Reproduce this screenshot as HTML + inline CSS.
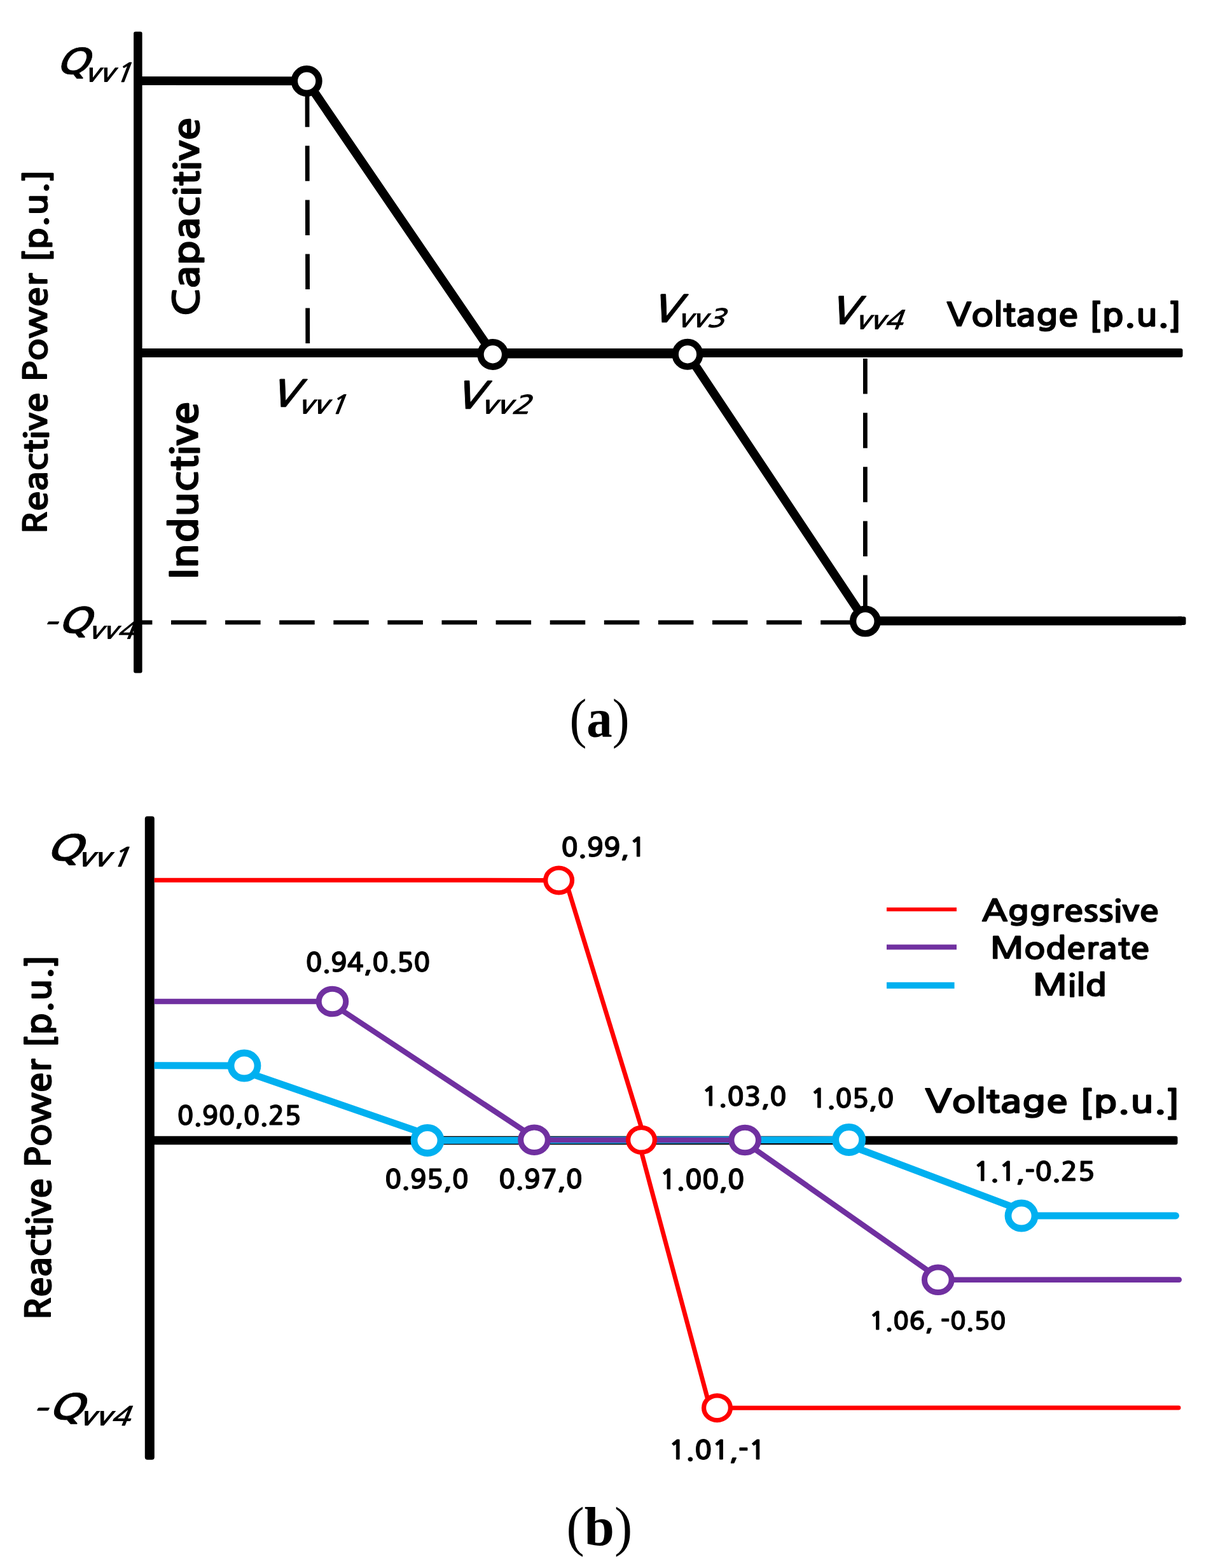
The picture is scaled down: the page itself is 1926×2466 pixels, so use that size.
<!DOCTYPE html>
<html><head><meta charset="utf-8"><title>Volt-VAR curves</title>
<style>html,body{margin:0;padding:0;background:#fff;overflow:hidden}svg{display:block}</style></head>
<body><svg width="1926" height="2466" viewBox="0 0 1926 2466">
<rect width="1926" height="2466" fill="#fff"/>
<text transform="translate(-174.93,-317.95) scale(0.6539,0.5430) translate(400,800) skewX(-18.4)" font-family="NanumGothic, 'Noto Sans CJK KR', sans-serif" font-weight="700" font-size="100" stroke="#000" stroke-width="1.2">Q</text>
<text transform="translate(-57.80,-199.86) scale(0.4738,0.4117) translate(400,800) skewX(-18.4)" font-family="NanumGothic, 'Noto Sans CJK KR', sans-serif" font-weight="700" font-size="100">vv1</text>
<text transform="translate(-183.75,681.29) scale(0.6194,0.3917) translate(400,800) skewX(-18.4)" font-family="NanumGothic, 'Noto Sans CJK KR', sans-serif" font-weight="700" font-size="100" stroke="#000" stroke-width="1.2">-</text>
<text transform="translate(-171.93,563.75) scale(0.6539,0.5387) translate(400,800) skewX(-18.4)" font-family="NanumGothic, 'Noto Sans CJK KR', sans-serif" font-weight="700" font-size="100" stroke="#000" stroke-width="1.2">Q</text>
<text transform="translate(-48.65,702.98) scale(0.4660,0.3779) translate(400,800) skewX(-18.4)" font-family="NanumGothic, 'Noto Sans CJK KR', sans-serif" font-weight="700" font-size="100">vv4</text>
<text transform="translate(162.16,175.70) scale(0.6536,0.5805) translate(400,800) skewX(-18.4)" font-family="NanumGothic, 'Noto Sans CJK KR', sans-serif" font-weight="700" font-size="100" stroke="#000" stroke-width="1.2">V</text>
<text transform="translate(273.04,323.08) scale(0.4858,0.4104) translate(400,800) skewX(-18.4)" font-family="NanumGothic, 'Noto Sans CJK KR', sans-serif" font-weight="700" font-size="100">vv1</text>
<text transform="translate(451.65,174.44) scale(0.6551,0.5857) translate(400,800) skewX(-18.4)" font-family="NanumGothic, 'Noto Sans CJK KR', sans-serif" font-weight="700" font-size="100" stroke="#000" stroke-width="1.2">V</text>
<text transform="translate(555.08,327.29) scale(0.4993,0.4051) translate(400,800) skewX(-18.4)" font-family="NanumGothic, 'Noto Sans CJK KR', sans-serif" font-weight="700" font-size="100">vv2</text>
<text transform="translate(761.06,37.70) scale(0.6536,0.5870) translate(400,800) skewX(-18.4)" font-family="NanumGothic, 'Noto Sans CJK KR', sans-serif" font-weight="700" font-size="100" stroke="#000" stroke-width="1.2">V</text>
<text transform="translate(873.66,192.12) scale(0.4760,0.4038) translate(400,800) skewX(-18.4)" font-family="NanumGothic, 'Noto Sans CJK KR', sans-serif" font-weight="700" font-size="100">vv3</text>
<text transform="translate(1042.81,37.38) scale(0.6493,0.5909) translate(400,800) skewX(-18.4)" font-family="NanumGothic, 'Noto Sans CJK KR', sans-serif" font-weight="700" font-size="100" stroke="#000" stroke-width="1.2">V</text>
<text transform="translate(1154.27,189.78) scale(0.4733,0.4104) translate(400,800) skewX(-18.4)" font-family="NanumGothic, 'Noto Sans CJK KR', sans-serif" font-weight="700" font-size="100">vv4</text>
<text transform="translate(1257.02,103.66) scale(0.5789,0.5115) translate(400,800) " font-family="NanumGothic, 'Noto Sans CJK KR', sans-serif" font-weight="700" font-size="100" stroke="#000" stroke-width="2.0">Voltage <tspan dy="7">[</tspan><tspan dy="-7">p.u.</tspan><tspan dy="7">]</tspan></text>
<text transform="translate(-331.43,-33.12) scale(0.5064,0.5822) translate(800,1500) rotate(-90)" font-family="NanumGothic, 'Noto Sans CJK KR', sans-serif" font-weight="700" font-size="100" stroke="#000" stroke-width="2.0">Reactive Power <tspan dy="7">[</tspan><tspan dy="-7">p.u.</tspan><tspan dy="7">]</tspan></text>
<text transform="translate(-142.25,-496.08) scale(0.5691,0.6628) translate(800,1500) rotate(-90)" font-family="NanumGothic, 'Noto Sans CJK KR', sans-serif" font-weight="700" font-size="100" stroke="#000" stroke-width="2.0">Capacitive</text>
<text transform="translate(-160.58,-91.31) scale(0.5897,0.6682) translate(800,1500) rotate(-90)" font-family="NanumGothic, 'Noto Sans CJK KR', sans-serif" font-weight="700" font-size="100" stroke="#000" stroke-width="2.0">Inductive</text>
<text transform="translate(572.13,466.08) scale(0.8083,0.8656) translate(400,800) " font-family="'Liberation Serif', serif" font-weight="400" font-size="100">(<tspan font-weight="bold">a</tspan>)</text>
<text transform="translate(-215.88,917.27) scale(0.7171,0.5441) translate(400,800) skewX(-18.4)" font-family="NanumGothic, 'Noto Sans CJK KR', sans-serif" font-weight="700" font-size="100" stroke="#000" stroke-width="1.2">Q</text>
<text transform="translate(-89.40,1030.82) scale(0.5241,0.4156) translate(400,800) skewX(-18.4)" font-family="NanumGothic, 'Noto Sans CJK KR', sans-serif" font-weight="700" font-size="100">vv1</text>
<text transform="translate(-209.05,1905.11) scale(0.6419,0.4083) translate(400,800) skewX(-18.4)" font-family="NanumGothic, 'Noto Sans CJK KR', sans-serif" font-weight="700" font-size="100" stroke="#000" stroke-width="1.2">-</text>
<text transform="translate(-205.94,1798.12) scale(0.7013,0.5419) translate(400,800) skewX(-18.4)" font-family="NanumGothic, 'Noto Sans CJK KR', sans-serif" font-weight="700" font-size="100" stroke="#000" stroke-width="1.2">Q</text>
<text transform="translate(-79.65,1910.96) scale(0.5080,0.4143) translate(400,800) skewX(-18.4)" font-family="NanumGothic, 'Noto Sans CJK KR', sans-serif" font-weight="700" font-size="100">vv4</text>
<text transform="translate(1203.29,1348.97) scale(0.6281,0.5013) translate(400,800) " font-family="NanumGothic, 'Noto Sans CJK KR', sans-serif" font-weight="700" font-size="100" stroke="#000" stroke-width="2.0">Voltage <tspan dy="7">[</tspan><tspan dy="-7">p.u.</tspan><tspan dy="7">]</tspan></text>
<text transform="translate(-358.72,1201.34) scale(0.5487,0.5833) translate(800,1500) rotate(-90)" font-family="NanumGothic, 'Noto Sans CJK KR', sans-serif" font-weight="700" font-size="100" stroke="#000" stroke-width="2.0">Reactive Power <tspan dy="7">[</tspan><tspan dy="-7">p.u.</tspan><tspan dy="7">]</tspan></text>
<text transform="translate(1319.23,1066.98) scale(0.5609,0.4769) translate(400,800) " font-family="NanumGothic, 'Noto Sans CJK KR', sans-serif" font-weight="700" font-size="100" stroke="#000" stroke-width="2.0">Aggressive</text>
<text transform="translate(1335.49,1126.08) scale(0.5525,0.4769) translate(400,800) " font-family="NanumGothic, 'Noto Sans CJK KR', sans-serif" font-weight="700" font-size="100" stroke="#000" stroke-width="2.0">Moderate</text>
<text transform="translate(1396.26,1193.53) scale(0.5682,0.4654) translate(400,800) " font-family="NanumGothic, 'Noto Sans CJK KR', sans-serif" font-weight="700" font-size="100" stroke="#000" stroke-width="2.0">Mild</text>
<text transform="translate(705.93,1026.80) scale(0.4410,0.4000) translate(400,800) " font-family="NanumGothic, 'Noto Sans CJK KR', sans-serif" font-weight="700" font-size="100" stroke="#000" stroke-width="2.0">0.99,1</text>
<text transform="translate(308.14,1213.01) scale(0.4311,0.3937) translate(400,800) " font-family="NanumGothic, 'Noto Sans CJK KR', sans-serif" font-weight="700" font-size="100" stroke="#000" stroke-width="2.0">0.94,0.50</text>
<text transform="translate(106.99,1452.71) scale(0.4290,0.3950) translate(400,800) " font-family="NanumGothic, 'Noto Sans CJK KR', sans-serif" font-weight="700" font-size="100" stroke="#000" stroke-width="2.0">0.90,0.25</text>
<text transform="translate(926.66,1420.50) scale(0.4411,0.3987) translate(400,800) " font-family="NanumGothic, 'Noto Sans CJK KR', sans-serif" font-weight="700" font-size="100" stroke="#000" stroke-width="2.0">1.03,0</text>
<text transform="translate(1099.94,1423.02) scale(0.4348,0.3987) translate(400,800) " font-family="NanumGothic, 'Noto Sans CJK KR', sans-serif" font-weight="700" font-size="100" stroke="#000" stroke-width="2.0">1.05,0</text>
<text transform="translate(430.76,1550.50) scale(0.4353,0.3987) translate(400,800) " font-family="NanumGothic, 'Noto Sans CJK KR', sans-serif" font-weight="700" font-size="100" stroke="#000" stroke-width="2.0">0.95,0</text>
<text transform="translate(609.72,1550.50) scale(0.4356,0.3987) translate(400,800) " font-family="NanumGothic, 'Noto Sans CJK KR', sans-serif" font-weight="700" font-size="100" stroke="#000" stroke-width="2.0">0.97,0</text>
<text transform="translate(860.46,1540.96) scale(0.4411,0.4114) translate(400,800) " font-family="NanumGothic, 'Noto Sans CJK KR', sans-serif" font-weight="700" font-size="100" stroke="#000" stroke-width="2.0">1.00,0</text>
<text transform="translate(1352.24,1540.81) scale(0.4448,0.3950) translate(400,800) " font-family="NanumGothic, 'Noto Sans CJK KR', sans-serif" font-weight="700" font-size="100" stroke="#000" stroke-width="2.0">1.1,-0.25</text>
<text transform="translate(1200.19,1782.43) scale(0.4153,0.3862) translate(400,800) " font-family="NanumGothic, 'Noto Sans CJK KR', sans-serif" font-weight="700" font-size="100" stroke="#000" stroke-width="2.0">1.06, -0.50</text>
<text transform="translate(870.33,1974.08) scale(0.4516,0.4013) translate(400,800) " font-family="NanumGothic, 'Noto Sans CJK KR', sans-serif" font-weight="700" font-size="100" stroke="#000" stroke-width="2.0">1.01,-1</text>
<text transform="translate(551.31,1742.34) scale(0.8482,0.8600) translate(400,800) " font-family="'Liberation Serif', serif" font-weight="400" font-size="100">(<tspan font-weight="bold">b</tspan>)</text>
<rect x="210.1" y="49.8" width="13.5" height="1008.7" rx="3" fill="#000"/>
<rect x="212" y="548.1" width="1647.5" height="13.8" rx="3" fill="#000"/>
<polyline points="216.6,127.1 482.2,127.3 774.8,556.5 1081,556.5 1360.4,976.5 1858,976.5" fill="none" stroke="#000" stroke-width="13.8" stroke-linejoin="round"/>
<rect x="1850" y="969.65" width="14.5" height="13.3" rx="3" fill="#000"/>
<g fill="none" stroke="#000" stroke-width="6.8" stroke-dasharray="55.5 29.6">
<line x1="483" y1="144.2" x2="483.8" y2="548"/>
<line x1="1360.4" y1="564.1" x2="1360.4" y2="970"/>
<line x1="223" y1="978.8" x2="1340" y2="978.8" stroke-dashoffset="39.1"/>
</g>
<g fill="#fff" stroke="#000" stroke-width="10.4">
<circle cx="482.2" cy="127.5" r="19.3"/>
<circle cx="774.8" cy="557.4" r="19.3"/>
<circle cx="1081" cy="557.3" r="19.3"/>
<circle cx="1360.4" cy="977.1" r="19.3"/>
</g>
<rect x="227.8" y="1283.8" width="15" height="1012" rx="4" fill="#000"/>
<rect x="235" y="1786.8" width="1616.5" height="13.5" rx="3" fill="#000"/>
<g fill="none">
<line x1="242.5" y1="1675.7" x2="363.0" y2="1676.0" stroke="#00b0f0" stroke-width="10.8"/>
<line x1="398.8" y1="1690.1" x2="657.2" y2="1779.4" stroke="#00b0f0" stroke-width="10.8"/>
<line x1="693.0" y1="1793.5" x2="1313.7" y2="1792.5" stroke="#00b0f0" stroke-width="10.8"/>
<line x1="1349.5" y1="1806.6" x2="1591.2" y2="1897.9" stroke="#00b0f0" stroke-width="10.8"/>
<line x1="1627.0" y1="1912.0" x2="1848.6" y2="1912.0" stroke="#00b0f0" stroke-width="10.8" stroke-linecap="round"/>
<line x1="242.5" y1="1575.0" x2="501.2" y2="1575.0" stroke="#7030a0" stroke-width="8.6"/>
<line x1="537.6" y1="1589.0" x2="824.9" y2="1778.8" stroke="#7030a0" stroke-width="8.6"/>
<line x1="861.3" y1="1792.8" x2="1149.9" y2="1793.0" stroke="#7030a0" stroke-width="8.6"/>
<line x1="1186.3" y1="1807.0" x2="1459.7" y2="1998.8" stroke="#7030a0" stroke-width="8.6"/>
<line x1="1496.1" y1="2012.8" x2="1853.8" y2="2012.6" stroke="#7030a0" stroke-width="8.6" stroke-linecap="round"/>
<line x1="242.5" y1="1384.2" x2="857.7" y2="1384.4" stroke="#ff0000" stroke-width="7.0"/>
<line x1="893.4" y1="1398.1" x2="1008.5" y2="1773.4" stroke="#ff0000" stroke-width="7.0"/>
<line x1="1008.5" y1="1812.2" x2="1112.7" y2="2200.5" stroke="#ff0000" stroke-width="7.0"/>
<line x1="1148.4" y1="2214.2" x2="1853.0" y2="2214.0" stroke="#ff0000" stroke-width="7.0" stroke-linecap="round"/>
</g>
<ellipse cx="384" cy="1676" rx="21" ry="20" fill="#fff" stroke="#00b0f0" stroke-width="10.8"/>
<ellipse cx="672" cy="1793.5" rx="21" ry="20" fill="#fff" stroke="#00b0f0" stroke-width="10.8"/>
<ellipse cx="1334.7" cy="1792.5" rx="21" ry="20" fill="#fff" stroke="#00b0f0" stroke-width="10.8"/>
<ellipse cx="1606" cy="1912" rx="21" ry="20" fill="#fff" stroke="#00b0f0" stroke-width="10.8"/>
<ellipse cx="522.5" cy="1575" rx="21.3" ry="19.8" fill="#fff" stroke="#7030a0" stroke-width="9"/>
<ellipse cx="840" cy="1792.8" rx="21.3" ry="19.8" fill="#fff" stroke="#7030a0" stroke-width="9"/>
<ellipse cx="1171.2" cy="1793" rx="21.3" ry="19.8" fill="#fff" stroke="#7030a0" stroke-width="9"/>
<ellipse cx="1474.8" cy="2012.8" rx="21.3" ry="19.8" fill="#fff" stroke="#7030a0" stroke-width="9"/>
<ellipse cx="878.6" cy="1384.4" rx="20.9" ry="19.4" fill="#fff" stroke="#ff0000" stroke-width="7.2"/>
<ellipse cx="1008.5" cy="1792.8" rx="20.9" ry="19.4" fill="#fff" stroke="#ff0000" stroke-width="7.2"/>
<ellipse cx="1127.5" cy="2214.2" rx="20.9" ry="19.4" fill="#fff" stroke="#ff0000" stroke-width="7.2"/>
<g><line x1="1394" y1="1430.3" x2="1504" y2="1430.3" stroke="#ff0000" stroke-width="6"/><line x1="1394" y1="1489.5" x2="1504" y2="1489.5" stroke="#7030a0" stroke-width="8"/><line x1="1394" y1="1549.7" x2="1500.6" y2="1549.7" stroke="#00b0f0" stroke-width="10"/></g>
</svg></body></html>
